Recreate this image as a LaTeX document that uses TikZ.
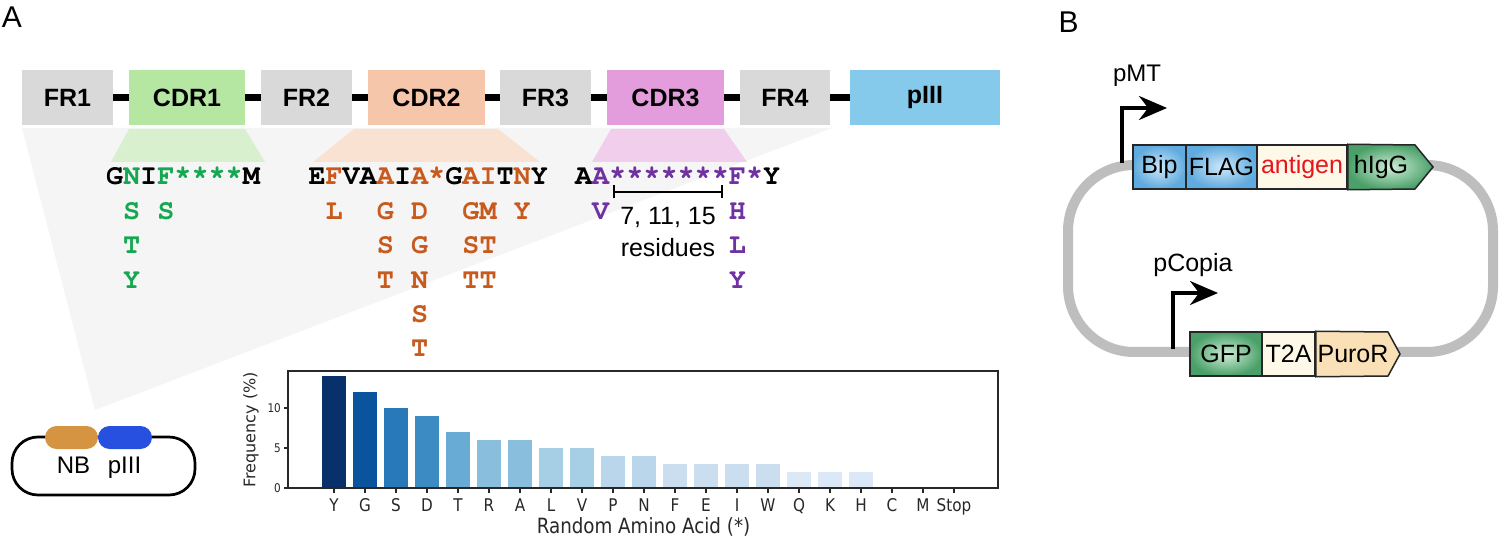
\documentclass[tikz,border=0pt]{standalone}
\usepackage{fontspec}
\setmainfont{Liberation Sans}
\newfontfamily\monof{TeX Gyre Cursor}
\newfontfamily\dvs{DejaVu Sans}[FakeStretch=0.87]
\newfontfamily\dvn{DejaVu Sans}
\usetikzlibrary{arrows.meta}
\definecolor{frgray}{RGB}{217,217,217}
\definecolor{cdrA}{RGB}{181,230,162}
\definecolor{cdrB}{RGB}{246,198,170}
\definecolor{cdrC}{RGB}{227,157,220}
\definecolor{piiiC}{RGB}{133,202,235}
\definecolor{trA}{RGB}{216,240,205}
\definecolor{trB}{RGB}{250,226,210}
\definecolor{trC}{RGB}{240,206,236}
\definecolor{bgtri}{RGB}{245,245,245}
\definecolor{sqG}{RGB}{22,168,80}
\definecolor{sqO}{RGB}{200,90,30}
\definecolor{sqP}{RGB}{112,50,160}
\definecolor{b1}{RGB}{8,48,107}
\definecolor{b2}{RGB}{10,84,158}
\definecolor{b3}{RGB}{39,121,185}
\definecolor{b4}{RGB}{60,140,195}
\definecolor{b5}{RGB}{104,172,213}
\definecolor{b6}{RGB}{137,190,220}
\definecolor{b7}{RGB}{166,206,228}
\definecolor{b8}{RGB}{186,214,235}
\definecolor{b9}{RGB}{202,222,240}
\definecolor{b10}{RGB}{219,233,246}
\definecolor{bbgray}{RGB}{190,190,190}
\definecolor{blueout}{RGB}{95,170,222}
\definecolor{bluein}{RGB}{205,232,250}
\definecolor{greenout}{RGB}{75,160,105}
\definecolor{greenin}{RGB}{205,238,215}
\definecolor{creamc}{RGB}{253,248,232}
\definecolor{tanc}{RGB}{250,224,182}
\definecolor{agred}{RGB}{232,20,28}
\definecolor{nbcol}{RGB}{212,148,66}
\definecolor{p3col}{RGB}{40,80,224}
\definecolor{axisc}{RGB}{40,40,40}
\begin{document}
\begin{tikzpicture}[x=1pt,y=-1pt,
  panel/.style={inner sep=0, anchor=base, font=\fontsize{30}{32}\selectfont},
  blk/.style={inner sep=0, minimum height=55, font=\bfseries\fontsize{25}{27}\selectfont},
  seqch/.style={anchor=base, inner sep=0, font=\monof\bfseries\fontsize{28.5}{30}\selectfont},
  sans/.style={inner sep=0, font=\fontsize{25}{27}\selectfont},
  axisline/.style={draw=axisc, line width=1.2},
  xtick/.style={inner sep=0, anchor=base, text=axisc, font=\dvs\fontsize{17.5}{19}\selectfont},
  ytick/.style={inner sep=0, anchor=east, text=axisc, font=\dvs\fontsize{12}{13}\selectfont},
  gene/.style={draw=black!85, line width=1.5, inner sep=0, minimum height=44, font=\fontsize{25}{27}\selectfont},
  genetxt/.style={inner sep=0, font=\fontsize{25}{27}\selectfont},
  prom/.style={line width=3.3, -{Stealth[length=28pt,width=24pt]}},
  pill/.style={inner sep=0, minimum height=23, rounded corners=11.5}
]
\useasboundingbox (0,0) rectangle (1500,537);
\fill[white] (0,0) rectangle (1500,537);

% ---------- Panel A ----------
\node[panel] (labA) at (12,28) {A};

\fill[bgtri] (22,128) -- (832,128) -- (95,410) -- cycle;
\fill[trA] (129,129) -- (245,129) -- (265,162) -- (111,162) -- cycle;
\fill[trB] (354,129) -- (498,129) -- (540,162) -- (313,162) -- cycle;
\fill[trC] (611,129) -- (724,129) -- (747,162) -- (592,162) -- cycle;

\node[blk, fill=frgray, minimum width=91] (fr1) at (67.5,97.5) {FR1};
\node[blk, fill=cdrA, minimum width=116] (cdr1) at (187,97.5) {CDR1};
\node[blk, fill=frgray, minimum width=91] (fr2) at (306.5,97.5) {FR2};
\node[blk, fill=cdrB, minimum width=117] (cdr2) at (426.5,97.5) {CDR2};
\node[blk, fill=frgray, minimum width=91] (fr3) at (545.5,97.5) {FR3};
\node[blk, fill=cdrC, minimum width=117] (cdr3) at (665.5,97.5) {CDR3};
\node[blk, fill=frgray, minimum width=90] (fr4) at (785,97.5) {FR4};
\node[blk, fill=piiiC, minimum width=150] (piii) at (925,97.5) {pIII};
\foreach \a/\b in {fr1/cdr1,cdr1/fr2,fr2/cdr2,cdr2/fr3,fr3/cdr3,cdr3/fr4,fr4/piii}
  \draw[line width=7] (\a.east) -- (\b.west);

% sequences
\foreach \c/\k [count=\i from 0] in {G/black,N/sqG,I/black,F/sqG,*/sqG,*/sqG,*/sqG,*/sqG,M/black}
  \node[seqch, text=\k] (sa\i) at ({106+(\i+0.5)*17.1},185) {\c};
\foreach \i/\r/\c in {1/1/S,1/2/T,1/3/Y,3/1/S}
  \node[seqch, text=sqG] (va\i-\r) at ({106+(\i+0.5)*17.1},{185+34.4*\r}) {\c};

\foreach \c/\k [count=\i from 0] in {E/black,F/sqO,V/black,A/black,A/sqO,I/black,A/sqO,*/sqO,G/black,A/sqO,I/sqO,T/black,N/sqO,Y/black}
  \node[seqch, text=\k] (sb\i) at ({308.5+(\i+0.5)*17.1},185) {\c};
\foreach \i/\r/\c in {1/1/L,4/1/G,4/2/S,4/3/T,6/1/D,6/2/G,6/3/N,6/4/S,6/5/T,9/1/G,9/2/S,9/3/T,10/1/M,10/2/T,10/3/T,12/1/Y}
  \node[seqch, text=sqO] (vb\i-\r) at ({308.5+(\i+0.5)*17.1},{185+34.4*\r}) {\c};

\foreach \c/\k [count=\i from 0] in {A/black,A/sqP,*/sqP,*/sqP,*/sqP,*/sqP,*/sqP,*/sqP,*/sqP,F/sqP,*/sqP,Y/black}
  \node[seqch, text=\k] (sc\i) at ({575+(\i+0.5)*17.1},185) {\c};
\foreach \i/\r/\c in {1/1/V,9/1/H,9/2/L,9/3/Y}
  \node[seqch, text=sqP] (vc\i-\r) at ({575+(\i+0.5)*17.1},{185+34.4*\r}) {\c};

\coordinate (brL) at (613,192);
\coordinate (brR) at (723,192);
\draw[line width=2, {Bar[width=13pt]}-{Bar[width=13pt]}] (brL) -- (brR);
\node[sans, anchor=base] (res1) at (668,225) {7, 11, 15};
\node[sans, anchor=base] (res2) at (668,257) {residues};

% small phagemid
\draw[line width=2.7, rounded corners=26] (12,437) rectangle (195,495);
\node[pill, fill=nbcol, minimum width=53] (nbpill) at (71.5,437.5) {};
\node[pill, fill=p3col, minimum width=54] (p3pill) at (125,437.5) {};
\node[sans, anchor=base, font=\fontsize{24}{26}\selectfont] (nbtxt) at (73.5,473) {NB};
\node[sans, anchor=base, font=\fontsize{24}{26}\selectfont] (p3txt) at (124.5,473) {pIII};

% bar chart
\foreach \i/\h/\lab/\col in {0/14/Y/b1,1/12/G/b2,2/10/S/b3,3/9/D/b4,4/7/T/b5,5/6/R/b6,6/6/A/b6,7/5/L/b7,8/5/V/b7,9/4/P/b8,10/4/N/b8,11/3/F/b9,12/3/E/b9,13/3/I/b9,14/3/W/b9,15/2/Q/b10,16/2/K/b10,17/2/H/b10,18/0/C/b10,19/0/M/b10,20/0/Stop/b10}{
  \pgfmathsetmacro\cx{334+31*\i}
  \fill[\col] (\cx-12.4,488) rectangle (\cx+12.4,{488-8*\h});
  \draw[axisline] (\cx,488) -- (\cx,492.5);
  \node[xtick] (xt\i) at (\cx,511) {\lab};
}
\draw[axisline] (288,371) rectangle (998,488);
\foreach \v/\yy in {0/488,5/448,10/408}{
  \draw[axisline] (288,\yy) -- (283.5,\yy);
  \node[ytick] (yt\v) at (281,\yy) {\v};
}
\node[inner sep=0, rotate=90, text=axisc, font=\dvn\fontsize{16}{18}\selectfont] (ylab) at (251,430) {Frequency (\%)};
\node[inner sep=0, anchor=base, text=axisc, font=\dvs\fontsize{21}{23}\selectfont] (xlab) at (643.5,533) {Random Amino Acid (*)};

% ---------- Panel B ----------
\node[panel] (labB) at (1068.5,33) {B};
\draw[bbgray, line width=10, rounded corners=66] (1068,165) rectangle (1493,352);

\node[gene, minimum width=53, inner color=bluein, outer color=blueout] (bip) at (1159.5,167) {Bip};
\node[gene, minimum width=71, inner color=bluein, outer color=blueout] (flag) at (1221.5,167) {FLAG};
\node[gene, minimum width=90, fill=creamc, text=agred] (antigen) at (1302,167) {antigen};
\path[draw=black!85, line width=1.5, inner color=greenin, outer color=greenout]
  (antigen.north east) -- (1415,145) -- (1433,167) -- (1415,189) -- (antigen.south east) -- cycle;
\node[genetxt] (higg) at (1381,167) {hIgG};

\node[gene, minimum width=72, inner color=greenin, outer color=greenout] (gfp) at (1226,354) {GFP};
\node[gene, minimum width=53, fill=creamc] (t2a) at (1288.5,354) {T2A};
\path[draw=black!85, line width=1.5, fill=tanc]
  (t2a.north east) -- (1388,332) -- (1400,354) -- (1388,376) -- (t2a.south east) -- cycle;
\node[genetxt] (puro) at (1353,354) {PuroR};

\node[sans, anchor=base, font=\fontsize{24}{26}\selectfont] (pmt) at (1137,82) {pMT};
\coordinate (pmt0) at (1122,163);
\coordinate (pmt1) at (1167,108);
\draw[prom] (pmt0) |- (pmt1);

\node[sans, anchor=base] (pcop) at (1193,272) {pCopia};
\coordinate (pc0) at (1173,349);
\coordinate (pc1) at (1218,293);
\draw[prom] (pc0) |- (pc1);
\end{tikzpicture}
\end{document}
